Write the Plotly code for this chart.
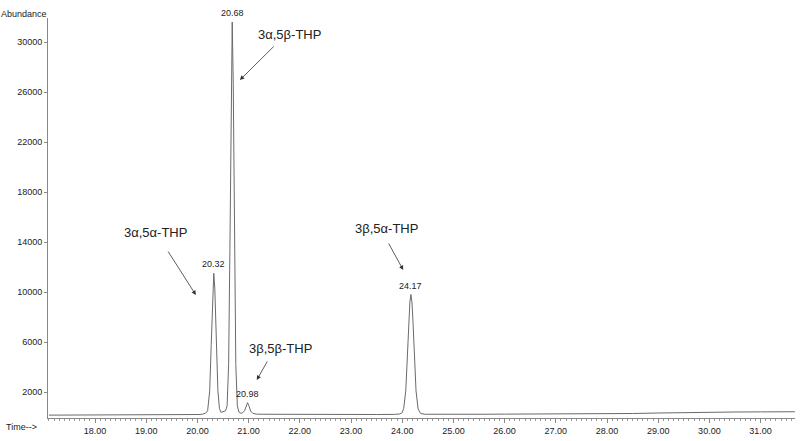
import plotly.graph_objects as go

# Cromatograma (TIC) - tiempo de retención vs abundancia
tiempo = [17.10, 17.5, 18.0, 18.5, 19.0, 19.5, 19.9, 20.05, 20.10, 20.16, 20.20, 20.24, 20.27,
          20.30, 20.32, 20.34, 20.37, 20.40, 20.43, 20.46, 20.50, 20.55, 20.58, 20.61, 20.635,
          20.66, 20.68, 20.70, 20.725, 20.75, 20.78, 20.81, 20.85, 20.88, 20.92, 20.95, 20.98,
          21.01, 21.04, 21.08, 21.15, 21.3, 21.6, 22.0, 22.5, 23.0, 23.5, 23.85, 23.95, 24.00,
          24.03, 24.07, 24.10, 24.13, 24.15, 24.17, 24.19, 24.21, 24.24, 24.27, 24.31, 24.36,
          24.45, 24.7, 25.0, 25.5, 26.0, 26.5, 27.0, 27.5, 28.0, 28.5, 29.0, 29.5, 30.0, 30.5,
          31.0, 31.5, 31.67]
abundancia = [150, 150, 160, 170, 180, 180, 190, 200, 230, 300, 500, 2100, 5800,
              10300, 11500, 10300, 5800, 2100, 700, 380, 420, 500, 900, 4200, 13500,
              26700, 31600, 26700, 13500, 4200, 900, 400, 300, 330, 500, 850, 1150,
              850, 480, 300, 230, 220, 210, 200, 200, 200, 200, 210, 240, 350,
              700, 2100, 4600, 7700, 9200, 9800, 9200, 7700, 4600, 2100, 650, 280,
              220, 210, 210, 220, 230, 230, 240, 250, 260, 280, 320, 360, 390, 400,
              410, 420, 420]

# Picos etiquetados
picos_t = [20.32, 20.68, 20.98, 24.17]
picos_h = [11500, 31600, 1150, 9800]

# Compuestos identificados
compuestos = ["3α,5α-THP", "3α,5β-THP", "3β,5β-THP", "3β,5α-THP"]

# ticks
x_ticks = [18, 19, 20, 21, 22, 23, 24, 25, 26, 27, 28, 29, 30, 31]
y_ticks = [2000, 6000, 10000, 14000, 18000, 22000, 26000, 30000]

fuente = "Liberation Sans, Arial, sans-serif"

fig = go.Figure()
fig.add_trace(go.Scatter(
    x=tiempo, y=abundancia, mode="lines",
    line=dict(color="#6a6a6a", width=1),
    showlegend=False, hoverinfo="x+y",
))

anots = []
# etiquetas de los picos
for t, h in zip(picos_t, picos_h):
    anots.append(dict(x=t, y=h, text=f"{t:.2f}", showarrow=False,
                      yanchor="bottom", yshift=2,
                      font=dict(family=fuente, size=9, color="#222")))

# nombres + flechas (texto, cola, punta)
pos_txt = [(19.19, 14800), (21.79, 30640), (21.63, 5520), (23.70, 15120)]
colas = [(19.41, 13360), (21.52, 29760), (21.38, 4560), (23.72, 14000)]
puntas = [(19.97, 9760), (20.83, 26960), (21.16, 2960), (24.02, 11760)]
for nombre, (tx, ty), (cx, cy), (px, py) in zip(compuestos, pos_txt, colas, puntas):
    anots.append(dict(x=tx, y=ty, text=nombre, showarrow=False,
                      font=dict(family=fuente, size=13, color="#222")))
    anots.append(dict(x=px, y=py, ax=cx, ay=cy, axref="x", ayref="y", text="",
                      showarrow=True, arrowhead=2, arrowsize=1.1, arrowwidth=0.8,
                      arrowcolor="#333"))

# textos de los ejes (estilo ChemStation)
anots.append(dict(x=-0.032, y=1.01, xref="paper", yref="paper", text="Abundance",
                  xanchor="center", yanchor="middle",
                  showarrow=False, font=dict(family=fuente, size=9, color="#222")))
anots.append(dict(x=-0.036, y=-0.0225, xref="paper", yref="paper", text="Time-->",
                  xanchor="center", yanchor="middle",
                  showarrow=False, font=dict(family=fuente, size=9, color="#222")))

fig.update_layout(
    width=800, height=441,
    margin=dict(l=48, r=5, t=18, b=23),
    plot_bgcolor="white", paper_bgcolor="white",
    annotations=anots,
    xaxis=dict(
        range=[17.082, 31.672], tickvals=x_ticks, tickformat=".2f",
        showgrid=False, zeroline=False, showline=True, linecolor="#888", linewidth=1,
        ticks="outside", ticklen=4, tickcolor="#888",
        minor=dict(dtick=0.1, ticks="outside", ticklen=2, tickcolor="#999"),
        tickfont=dict(family=fuente, size=9, color="#222"),
    ),
    yaxis=dict(
        range=[-80, 31920], tickvals=y_ticks, tickformat="d",
        showgrid=False, zeroline=False, showline=True, linecolor="#888", linewidth=1,
        ticks="outside", ticklen=3, tickcolor="#888",
        tickfont=dict(family=fuente, size=9, color="#222"),
    ),
)

# quitar el margen del body para que la figura ocupe la ventana
fig.write_html("out.html", config={"displayModeBar": False},
               post_script="document.body.style.margin='0';")
